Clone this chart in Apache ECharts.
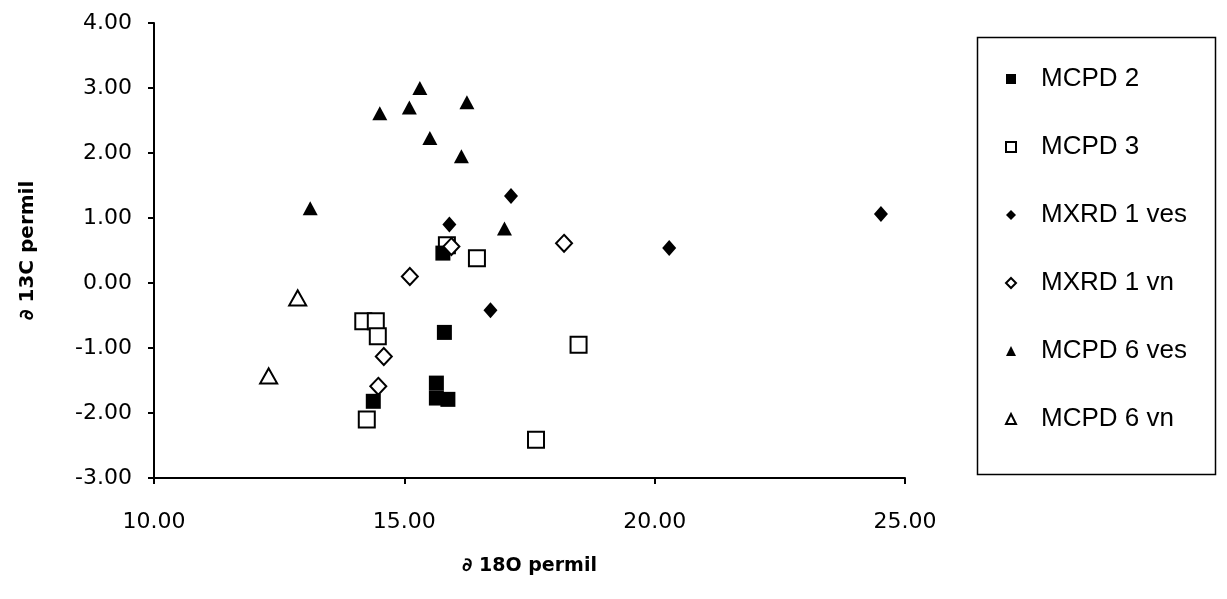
<!DOCTYPE html>
<html>
<head>
<meta charset="utf-8">
<script src="https://cdn.jsdelivr.net/npm/echarts@6/dist/echarts.min.js"></script>
<style>
  html, body { margin: 0; padding: 0; background: #fff; }
  #chart { width: 1227px; height: 599px; }
</style>
</head>
<body>
<div id="chart"></div>
<script>
// points: [d18O, d13C]
var mcpd2 = [[15.77, 0.46], [15.80, -0.76], [14.38, -1.82], [15.64, -1.54], [15.64, -1.77], [15.87, -1.79]];
var mcpd3 = [[14.18, -0.59], [14.43, -0.59], [14.47, -0.82], [14.25, -2.10], [16.45, 0.38], [15.85, 0.58], [18.48, -0.95], [17.63, -2.41]];
var mxrd1ves = [[17.13, 1.34], [15.90, 0.90], [24.52, 1.06], [20.29, 0.54], [16.72, -0.42]];
var mxrd1vn = [[15.11, 0.10], [15.94, 0.56], [18.19, 0.61], [14.59, -1.13], [14.48, -1.59]];
var mcpd6ves = [[15.31, 3.00], [14.51, 2.61], [15.10, 2.70], [16.25, 2.78], [15.51, 2.23], [16.14, 1.95], [13.12, 1.15], [17.00, 0.84]];
var mcpd6vn = [[12.87, -0.23], [12.29, -1.43]];

var seriesNames = ['MCPD 2', 'MCPD 3', 'MXRD 1 ves', 'MXRD 1 vn', 'MCPD 6 ves', 'MCPD 6 vn'];
var xTicks = [10, 15, 20, 25];
var yTicks = [-3, -2, -1, 0, 1, 2, 3, 4];

var font = 'DejaVu Sans';
var myChart = echarts.init(document.getElementById('chart'));

function filled(name, data, symbol, size, z) {
  return {
    name: name, type: 'scatter', data: data, symbol: symbol, symbolSize: size, z: z,
    itemStyle: { color: '#000', opacity: 1 }
  };
}
function hollow(name, data, symbol, size, z) {
  return {
    name: name, type: 'scatter', data: data, symbol: symbol, symbolSize: size, z: z,
    itemStyle: { color: '#fff', borderColor: '#000', borderWidth: 2, opacity: 1 }
  };
}

var option = {
  backgroundColor: '#fff',
  animation: false,
  grid: { left: 154, top: 23, right: 322, bottom: 121 },
  xAxis: {
    type: 'value', min: xTicks[0], max: xTicks[xTicks.length - 1], interval: 5,
    name: '∂ 18O permil', nameLocation: 'middle', nameGap: 79,
    nameTextStyle: { fontFamily: font, fontSize: 19, fontWeight: 'bold', color: '#000' },
    axisLine: { onZero: false, lineStyle: { color: '#000', width: 2 } },
    axisTick: { show: true, length: 6, lineStyle: { color: '#000', width: 2 } },
    axisLabel: { margin: 33, fontFamily: font, fontSize: 22, color: '#000', formatter: function (v) { return v.toFixed(2); } },
    splitLine: { show: false }
  },
  yAxis: {
    type: 'value', min: yTicks[0], max: yTicks[yTicks.length - 1], interval: 1,
    name: '∂ 13C permil', nameLocation: 'middle', nameGap: 116,
    nameTextStyle: { fontFamily: font, fontSize: 20, fontWeight: 'bold', color: '#000' },
    axisLine: { onZero: false, lineStyle: { color: '#000', width: 2 } },
    axisTick: { show: true, length: 6, lineStyle: { color: '#000', width: 2 } },
    axisLabel: { margin: 22, fontFamily: font, fontSize: 22, color: '#000', formatter: function (v) { return v.toFixed(2); } },
    splitLine: { show: false }
  },
  legend: {
    orient: 'vertical', left: 1000, top: 61,
    data: seriesNames,
    itemWidth: 10, itemHeight: 10, itemGap: 42,
    textStyle: { fontFamily: 'Liberation Sans', fontSize: 26, color: '#000', lineHeight: 26, padding: [0, 0, 0, 20] }
  },
  graphic: [{
    type: 'rect', left: 975, top: 35,
    shape: { width: 238, height: 437 },
    style: { fill: 'none', stroke: '#000', lineWidth: 1.5 }
  }],
  series: [
    filled('MCPD 2', mcpd2, 'rect', 15, 3),
    hollow('MCPD 3', mcpd3, 'rect', 16, 2),
    filled('MXRD 1 ves', mxrd1ves, 'diamond', [14, 16], 4),
    hollow('MXRD 1 vn', mxrd1vn, 'diamond', [16, 17], 5),
    filled('MCPD 6 ves', mcpd6ves, 'triangle', [15, 14], 4),
    hollow('MCPD 6 vn', mcpd6vn, 'triangle', [17, 15], 4)
  ]
};
myChart.setOption(option);
</script>
</body>
</html>
